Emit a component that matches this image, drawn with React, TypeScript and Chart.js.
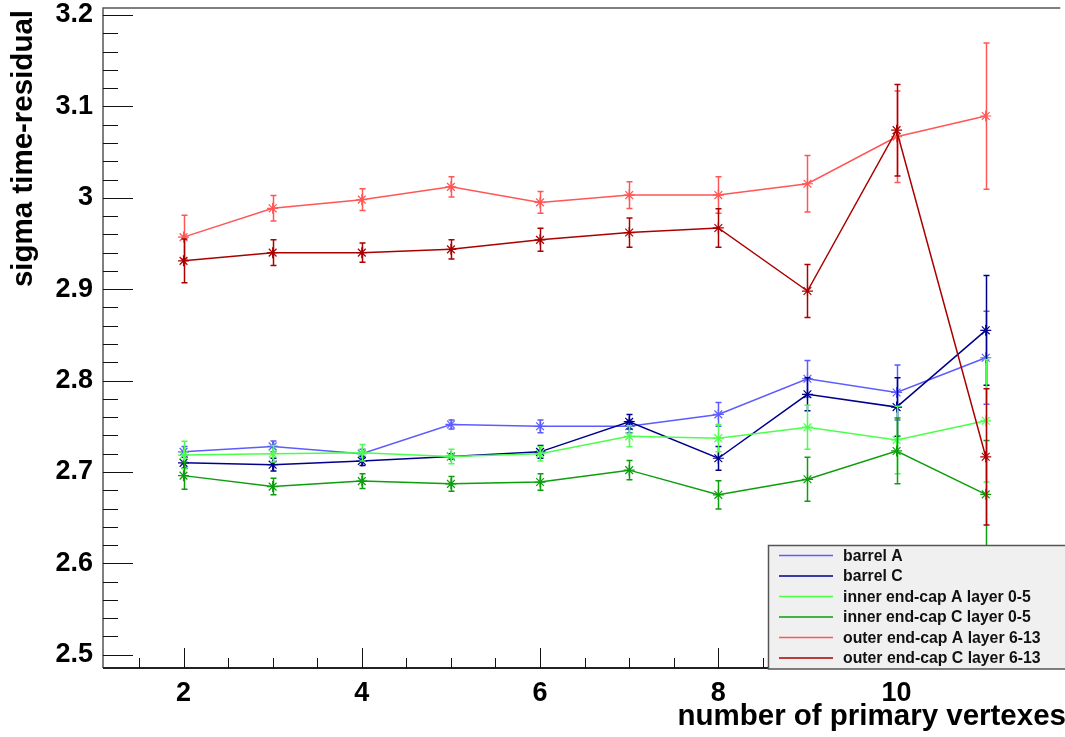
import React, { useEffect, useRef } from 'react';
import { Chart, registerables } from 'chart.js';

Chart.register(...registerables);

// ---------- data ----------
const xValues = [2, 3, 4, 5, 6, 7, 8, 9, 10, 11];

const seriesLabels = [
  'barrel A',
  'barrel C',
  'inner end-cap A layer 0-5',
  'inner end-cap C layer 0-5',
  'outer end-cap A layer 6-13',
  'outer end-cap C layer 6-13',
];

const barrelA = [2.722, 2.728, 2.720, 2.752, 2.750, 2.750, 2.763, 2.802, 2.787, 2.825];
const barrelAErr = [0.006, 0.006, 0.005, 0.005, 0.007, 0.007, 0.013, 0.020, 0.030, 0.051];

const barrelC = [2.710, 2.708, 2.712, 2.717, 2.722, 2.755, 2.715, 2.785, 2.771, 2.855];
const barrelCErr = [0.006, 0.007, 0.005, 0.003, 0.007, 0.008, 0.013, 0.018, 0.032, 0.060];

const innerA = [2.7185, 2.720, 2.721, 2.717, 2.720, 2.739, 2.737, 2.749, 2.735, 2.756];
const innerAErr = [0.015, 0.009, 0.009, 0.008, 0.008, 0.0115, 0.015, 0.024, 0.037, 0.067];

const innerC = [2.696, 2.684, 2.690, 2.687, 2.689, 2.702, 2.675, 2.692, 2.723, 2.6755];
const innerCErr = [0.015, 0.009, 0.008, 0.008, 0.009, 0.0106, 0.0155, 0.024, 0.036, 0.059];

const outerA = [2.957, 2.9885, 2.998, 3.012, 2.995, 3.003, 3.003, 3.0154, 3.0668, 3.0895];
const outerAErr = [0.024, 0.014, 0.012, 0.011, 0.012, 0.0146, 0.020, 0.031, 0.050, 0.080];

const outerC = [2.931, 2.940, 2.940, 2.9436, 2.954, 2.962, 2.967, 2.898, 3.074, 2.7166];
const outerCErr = [0.024, 0.014, 0.0106, 0.0106, 0.0126, 0.016, 0.021, 0.029, 0.050, 0.0746];

const seriesValues = [barrelA, barrelC, innerA, innerC, outerA, outerC];
const seriesErrors = [barrelAErr, barrelCErr, innerAErr, innerCErr, outerAErr, outerCErr];
const seriesColors = ['#5c5cff', '#00008c', '#4cff4c', '#0c9e0c', '#ff5656', '#aa0000'];

const xTickLabels = [2, 4, 6, 8, 10];
const yTickLabels = [2.5, 2.6, 2.7, 2.8, 2.9, 3.0, 3.1, 3.2];
const xMinorStep = 0.5;
const yMinorStep = 0.02;

const xTitle = 'number of primary vertexes';
const yTitle = 'sigma time-residual';

const X_MIN = 1.0967;
const X_MAX = 11.814;
const Y_MIN = 2.4855;
const Y_MAX = 3.2077;

const FONT = '"Liberation Sans", Arial, Helvetica, sans-serif';

// ---------- plugins ----------
const errorBarPlugin = {
  id: 'errorBars',
  afterDatasetDraw(chart: any, args: any) {
    const idx = args.index;
    const errs = seriesErrors[idx];
    const vals = seriesValues[idx];
    if (!errs) return;
    const { ctx, chartArea } = chart;
    const xs = chart.scales.x;
    const ys = chart.scales.y;
    ctx.save();
    ctx.beginPath();
    ctx.rect(chartArea.left, chartArea.top, chartArea.right - chartArea.left, chartArea.bottom - chartArea.top);
    ctx.clip();
    ctx.strokeStyle = seriesColors[idx];
    ctx.lineWidth = 1.5;
    for (let i = 0; i < vals.length; i++) {
      const px = Math.round(xs.getPixelForValue(xValues[i])) + 0.5;
      const yt = ys.getPixelForValue(vals[i] + errs[i]);
      const yb = ys.getPixelForValue(vals[i] - errs[i]);
      ctx.beginPath();
      ctx.moveTo(px, yt);
      ctx.lineTo(px, yb);
      ctx.moveTo(px - 3, yt);
      ctx.lineTo(px + 3, yt);
      ctx.moveTo(px - 3, yb);
      ctx.lineTo(px + 3, yb);
      ctx.stroke();
    }
    ctx.restore();
  },
};

const framePlugin = {
  id: 'rootFrame',
  afterDraw(chart: any) {
    const { ctx, chartArea } = chart;
    const xs = chart.scales.x;
    const ys = chart.scales.y;
    const { left, right, top, bottom } = chartArea;
    ctx.save();

    // frame
    ctx.strokeStyle = '#555';
    ctx.lineWidth = 1.5;
    ctx.beginPath();
    ctx.moveTo(left, bottom);
    ctx.lineTo(left, top);
    ctx.lineTo(right + 2, top);
    ctx.stroke();
    ctx.strokeStyle = '#222';
    ctx.lineWidth = 2;
    ctx.beginPath();
    ctx.moveTo(left, bottom);
    ctx.lineTo(right + 2, bottom);
    ctx.stroke();

    // y ticks (inside)
    ctx.strokeStyle = '#111';
    ctx.lineWidth = 1;
    const yStart = Math.ceil(Y_MIN / yMinorStep - 1e-6);
    const yEnd = Math.floor(Y_MAX / yMinorStep + 1e-6);
    for (let k = yStart; k <= yEnd; k++) {
      const v = k * yMinorStep;
      const major = Math.abs(v * 10 - Math.round(v * 10)) < 1e-6;
      const py = Math.round(ys.getPixelForValue(v)) + 0.5;
      ctx.beginPath();
      ctx.moveTo(left, py);
      ctx.lineTo(left + (major ? 30 : 15), py);
      ctx.stroke();
    }
    // x ticks (inside)
    const xStart = Math.ceil(X_MIN / xMinorStep - 1e-6);
    const xEnd = Math.floor(X_MAX / xMinorStep + 1e-6);
    for (let k = xStart; k <= xEnd; k++) {
      const v = k * xMinorStep;
      const major = Math.abs(v / 2 - Math.round(v / 2)) < 1e-6;
      const px = Math.round(xs.getPixelForValue(v)) + 0.5;
      ctx.beginPath();
      ctx.moveTo(px, bottom);
      ctx.lineTo(px, bottom - (major ? 20 : 10));
      ctx.stroke();
    }

    // axis titles
    ctx.fillStyle = '#000';
    ctx.font = `bold 29.5px ${FONT}`;
    ctx.textAlign = 'right';
    ctx.textBaseline = 'alphabetic';
    ctx.fillText(xTitle, 1066, 725);

    ctx.save();
    ctx.translate(32, 10);
    ctx.rotate(-Math.PI / 2);
    ctx.textAlign = 'right';
    ctx.textBaseline = 'alphabetic';
    ctx.font = `bold 29.5px ${FONT}`;
    ctx.fillText(yTitle, 0, 0);
    ctx.restore();

    // legend
    const lx = 768.5;
    const ly = 545.5;
    const lw = 1065 - lx + 2;
    const lh = 669 - ly;
    ctx.fillStyle = '#f0f0f0';
    ctx.fillRect(lx, ly, lw, lh);
    ctx.strokeStyle = '#555';
    ctx.lineWidth = 1.5;
    ctx.strokeRect(lx, ly, lw, lh);
    ctx.font = `bold 15.8px ${FONT}`;
    ctx.textAlign = 'left';
    ctx.textBaseline = 'middle';
    for (let i = 0; i < seriesLabels.length; i++) {
      const ry = 555.5 + i * 20.5;
      ctx.strokeStyle = seriesColors[i];
      ctx.lineWidth = 1.5;
      ctx.beginPath();
      ctx.moveTo(779, ry);
      ctx.lineTo(833, ry);
      ctx.stroke();
      ctx.fillStyle = '#111';
      ctx.fillText(seriesLabels[i], 843, ry + 1);
    }

    ctx.restore();
  },
};

export default function App() {
  const canvasRef = useRef<HTMLCanvasElement | null>(null);

  useEffect(() => {
    const canvas = canvasRef.current;
    if (!canvas) return;
    const datasets = seriesValues.map((vals, i) => ({
      label: seriesLabels[i],
      data: vals.map((v, j) => ({ x: xValues[j], y: v })),
      borderColor: seriesColors[i],
      backgroundColor: seriesColors[i],
      borderWidth: 1.5,
      pointStyle: 'star' as const,
      pointRadius: 5.5,
      pointBorderWidth: 1.2,
      pointBorderColor: seriesColors[i],
      tension: 0,
      fill: false,
      order: seriesValues.length - i,
    }));

    const chart = new Chart(canvas, {
      type: 'line',
      data: { datasets },
      plugins: [errorBarPlugin, framePlugin],
      options: {
        animation: false,
        responsive: false,
        devicePixelRatio: 1,
        layout: { padding: { top: 8, right: 1, left: 0, bottom: 0 } },
        plugins: {
          legend: { display: false },
          tooltip: { enabled: false },
          title: { display: false },
        },
        scales: {
          x: {
            type: 'linear',
            min: X_MIN,
            max: X_MAX,
            grid: { display: false, drawTicks: false },
            border: { display: false },
            afterBuildTicks: (axis: any) => {
              axis.ticks = xTickLabels.map((v) => ({ value: v }));
            },
            afterFit: (axis: any) => {
              axis.height = 69;
              axis.paddingLeft = 0;
              axis.paddingRight = 0;
            },
            ticks: {
              padding: 9,
              color: '#000',
              font: { family: FONT, size: 27, weight: 'bold' },
              maxRotation: 0,
              autoSkip: false,
              callback: (v: any) => String(v),
            },
          },
          y: {
            type: 'linear',
            min: Y_MIN,
            max: Y_MAX,
            grid: { display: false, drawTicks: false },
            border: { display: false },
            afterBuildTicks: (axis: any) => {
              axis.ticks = yTickLabels.map((v) => ({ value: v }));
            },
            afterFit: (axis: any) => {
              axis.width = 103;
              axis.paddingTop = 0;
              axis.paddingBottom = 0;
            },
            ticks: {
              padding: 10,
              color: '#000',
              font: { family: FONT, size: 27, weight: 'bold' },
              autoSkip: false,
              callback: (v: any) => String(Math.round(Number(v) * 10) / 10),
            },
          },
        },
      } as any,
    });
    return () => chart.destroy();
  }, []);

  return (
    <div style={{ position: 'fixed', left: 0, top: 0, width: 1065, height: 737, background: '#fff' }}>
      <canvas ref={canvasRef} width={1065} height={737} style={{ display: 'block' }} />
    </div>
  );
}
